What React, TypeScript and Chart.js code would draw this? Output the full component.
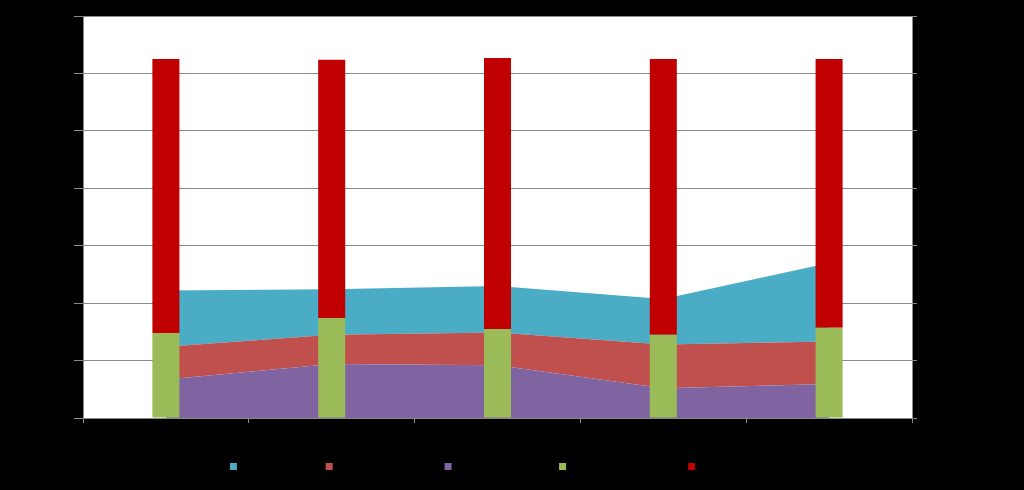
import React, { useEffect, useRef } from 'react';
import { Chart, registerables } from 'chart.js';
Chart.register(...registerables);

const categories = ['2008', '2009', '2010', '2011', '2012'];
const exportsArea = [9.8, 7.9, 8.1, 7.9, 13.7];
const domesticArea = [5.7, 5.1, 5.7, 7.6, 7.4];
const productionArea = [6.7, 9.4, 9.2, 5.2, 5.9];
const openingBars = [14.8, 17.4, 15.5, 14.5, 15.7];
const totalBars = [47.7, 45.0, 47.2, 48.0, 46.8];
const yTicks = [0, 10, 20, 30, 40, 50, 60, 70];
const legendOrder = [2, 1, 0, 3, 4];

const AXIS = '#8a8a8a';
const FONT = { family: 'Liberation Sans', size: 13 };

const bgPlugin = {
  id: 'bg',
  beforeDraw(c: any) {
    const { ctx, chartArea: a } = c;
    ctx.save();
    ctx.fillStyle = '#000';
    ctx.fillRect(0, 0, c.width, c.height);
    ctx.fillStyle = '#fff';
    ctx.fillRect(a.left, a.top, a.right - a.left, a.bottom - a.top);
    ctx.restore();
  },
};

export default function App() {
  const ref = useRef<HTMLCanvasElement>(null);
  useEffect(() => {
    document.body.style.margin = '0';
    document.body.style.background = '#000';
    const chart = new Chart(ref.current as HTMLCanvasElement, {
      type: 'bar',
      data: {
        labels: categories,
        datasets: [
          {
            type: 'line',
            label: 'Own production',
            data: productionArea,
            backgroundColor: '#8064A2',
            borderColor: 'rgba(0,0,0,0)',
            borderWidth: 0,
            pointRadius: 0,
            tension: 0,
            fill: 'origin',
            stack: 'areas',
            order: 1,
          },
          {
            type: 'line',
            label: 'Domestic supply',
            data: domesticArea,
            backgroundColor: '#C0504D',
            borderColor: 'rgba(0,0,0,0)',
            borderWidth: 0,
            pointRadius: 0,
            tension: 0,
            fill: '-1',
            stack: 'areas',
            order: 1,
          },
          {
            type: 'line',
            label: 'Exports total',
            data: exportsArea,
            backgroundColor: '#4BACC6',
            borderColor: 'rgba(0,0,0,0)',
            borderWidth: 0,
            pointRadius: 0,
            tension: 0,
            fill: '-1',
            stack: 'areas',
            order: 1,
          },
          {
            type: 'bar',
            label: 'Opening inventory',
            data: openingBars,
            backgroundColor: '#9BBB59',
            borderWidth: 0,
            stack: 'bars',
            barPercentage: 0.163,
            categoryPercentage: 1,
            order: 0,
          },
          {
            type: 'bar',
            label: 'Total disposition',
            data: totalBars,
            backgroundColor: '#C00000',
            borderWidth: 0,
            stack: 'bars',
            barPercentage: 0.163,
            categoryPercentage: 1,
            order: 0,
          },
        ] as any,
      },
      options: {
        responsive: false,
        animation: false,
        layout: { padding: { top: 16, left: 0, right: 0, bottom: 7 } },
        plugins: {
          tooltip: { enabled: false },
          legend: {
            position: 'bottom',
            labels: {
              boxWidth: 7,
              boxHeight: 7,
              color: '#000',
              font: FONT,
              sort: (a: any, b: any) =>
                legendOrder.indexOf(a.datasetIndex) - legendOrder.indexOf(b.datasetIndex),
            },
          },
        },
        scales: {
          x: {
            stacked: true,
            offset: true,
            grid: { offset: true, drawOnChartArea: false, tickLength: 5, color: AXIS },
            border: { color: AXIS },
            ticks: { color: '#000', font: FONT },
            afterFit: (s: any) => { s.height = 32; },
          },
          y: {
            stacked: true,
            min: yTicks[0],
            max: yTicks[yTicks.length - 1],
            ticks: { stepSize: yTicks[1] - yTicks[0], color: '#000', font: FONT },
            grid: { color: AXIS, tickLength: 9 },
            border: { color: AXIS },
            afterFit: (s: any) => { s.width = 83; },
          },
          y2: {
            position: 'right',
            min: yTicks[0],
            max: yTicks[yTicks.length - 1],
            ticks: { stepSize: yTicks[1] - yTicks[0], color: '#000', font: FONT },
            grid: { drawOnChartArea: false, color: AXIS, tickLength: 5 },
            border: { color: AXIS },
            afterFit: (s: any) => { s.width = 112; },
          },
        },
      } as any,
      plugins: [bgPlugin],
    });
    return () => chart.destroy();
  }, []);
  return (
    <div style={{ width: 1024, height: 490, background: '#000' }}>
      <canvas ref={ref} width={1024} height={490} style={{ display: 'block' }} />
    </div>
  );
}
